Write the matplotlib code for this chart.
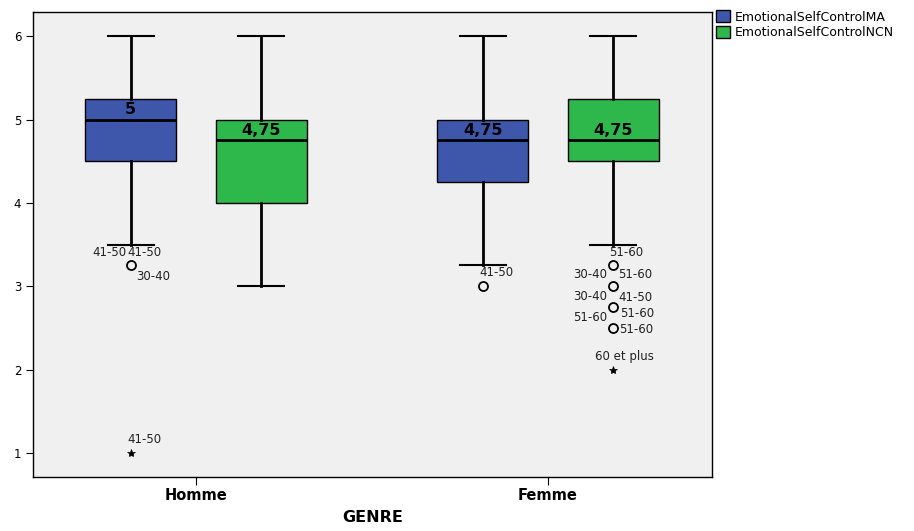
import numpy as np
import matplotlib.pyplot as plt
from matplotlib.patches import Patch

plt.rcParams['font.family'] = ['DejaVu Sans']

groups = ['Homme', 'Femme']
series = ['EmotionalSelfControlMA', 'EmotionalSelfControlNCN']
colors = ['#3E57AB', '#2EB84B']

# box stats per group, per series: whislo, q1, med, q3, whishi
whislo = [[3.5, 3.0], [3.25, 3.5]]
q1 = [[4.5, 4.0], [4.25, 4.5]]
med = [[5.0, 4.75], [4.75, 4.75]]
q3 = [[5.25, 5.0], [5.0, 5.25]]
whishi = [[6.0, 6.0], [6.0, 6.0]]
med_labels = [['5', '4,75'], ['4,75', '4,75']]

# outliers: (value, kind, [(label, dx, dy, ha)])
outliers = [
    [
        [(3.25, 'o', [('41-50', -0.011, 0.15, 'right'), ('41-50', -0.009, 0.15, 'left'),
                      ('30-40', 0.014, -0.13, 'left')]),
         (1.0, '*', [('41-50', -0.011, 0.16, 'left')])],
        [],
    ],
    [
        [(3.0, 'o', [('41-50', -0.011, 0.17, 'left')])],
        [(3.25, 'o', [('51-60', -0.011, 0.16, 'left')]),
         (3.0, 'o', [('30-40', -0.017, 0.146, 'right'), ('51-60', 0.014, 0.146, 'left')]),
         (2.75, 'o', [('30-40', -0.017, 0.13, 'right'), ('41-50', 0.016, 0.12, 'left')]),
         (2.5, 'o', [('51-60', -0.017, 0.13, 'right'), ('51-60', 0.019, 0.17, 'left'),
                     ('51-60', 0.016, -0.025, 'left')]),
         (2.0, '*', [('60 et plus', -0.051, 0.16, 'left')])],
    ],
]

fig = plt.figure(figsize=(9.14, 5.31), dpi=100)
ax = fig.add_axes([0.0361, 0.1017, 0.743, 0.8753])
ax.set_facecolor('#F0F0F0')

offset = 0.185
width = 0.258
for gi in range(len(groups)):
    for si in range(len(series)):
        pos = gi + 1 + (si - 0.5) * 2 * offset
        stats = [dict(med=med[gi][si], q1=q1[gi][si], q3=q3[gi][si],
                      whislo=whislo[gi][si], whishi=whishi[gi][si], fliers=[])]
        ax.bxp(stats, positions=[pos], widths=width, capwidths=0.13,
               showfliers=False, patch_artist=True,
               boxprops=dict(facecolor=colors[si], edgecolor='black', linewidth=1),
               medianprops=dict(color='black', linewidth=2),
               whiskerprops=dict(color='black', linewidth=2),
               capprops=dict(color='black', linewidth=1.5))
        ax.text(pos, med[gi][si] + 0.03, med_labels[gi][si], ha='center', va='bottom',
                fontsize=11.5, fontweight='bold')
        for val, kind, labs in outliers[gi][si]:
            if kind == 'o':
                ax.plot(pos, val, 'o', mfc='none', mec='black', ms=6.5, mew=1.3)
            else:
                ax.plot(pos, val, '*', color='black', ms=6, mew=0.5)
            for lab, dx, dy, ha in labs:
                ax.text(pos + dx, val + dy, lab, ha=ha, va='center', fontsize=8.5,
                        color='#222222')

ax.set_xlim(0.537, 2.466)
ax.set_ylim(0.71, 6.29)
ax.set_xticks([1, 2])
ax.set_xticklabels(groups, fontweight='bold', fontsize=10.5)
ax.set_yticks([1, 2, 3, 4, 5, 6])
ax.tick_params(axis='y', labelsize=8.5, length=5)
ax.tick_params(axis='x', length=6, pad=2)
ax.set_xlabel('GENRE', fontweight='bold', fontsize=11.5, labelpad=5)
for s in ax.spines.values():
    s.set_linewidth(1)

handles = [Patch(facecolor=c, edgecolor='black', label=l) for c, l in zip(colors, series)]
fig.legend(handles=handles, loc='upper left', bbox_to_anchor=(0.781, 0.985), frameon=False,
           fontsize=9, handlelength=1.1, handleheight=1.1, handletextpad=0.4,
           labelspacing=0.15, borderaxespad=0, borderpad=0.2)

fig.savefig('out.png', dpi=100)
